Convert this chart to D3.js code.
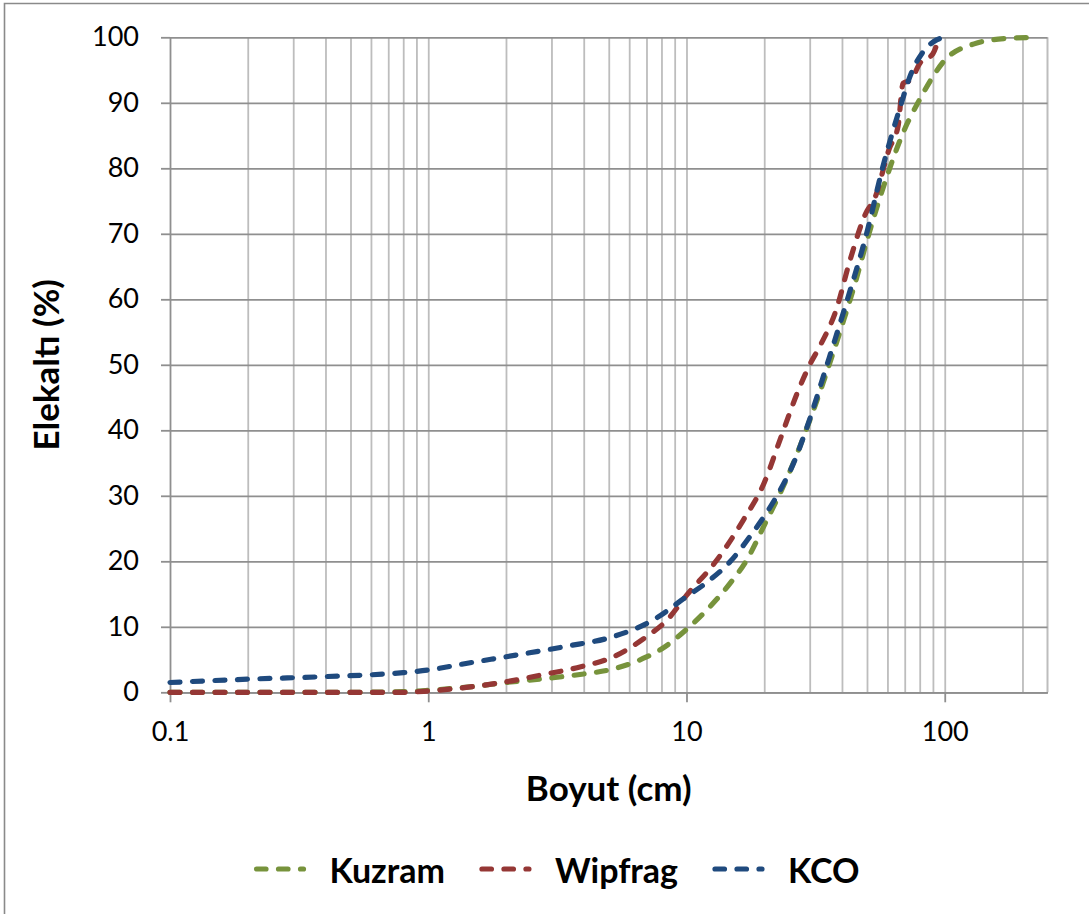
<!DOCTYPE html>
<html>
<head>
<meta charset="utf-8">
<script src="https://cdn.jsdelivr.net/npm/d3@7/dist/d3.min.js"></script>
<style>
  html, body { margin: 0; padding: 0; background: #ffffff; }
  svg { display: block; }
  text { font-family: Lato, "Open Sans", "Liberation Sans", sans-serif; fill: #000; }
</style>
</head>
<body>
<svg id="chart" width="1089" height="914"></svg>
<script>
// Particle size distribution curves (size in cm, cumulative passing in %)
const kuzramSize    = [0.1, 0.2, 0.5, 0.8, 1, 1.5, 2, 3, 4, 5, 6, 7, 8, 10, 12, 15, 17, 20, 25, 30, 35, 40, 45, 50, 60, 70, 80, 90, 100, 130, 170, 230];
const kuzramPassing = [0, 0, 0, 0.1, 0.3, 0.9, 1.5, 2.2, 2.8, 3.4, 4.3, 5.4, 6.6, 9.6, 12.6, 17, 20, 25.5, 33.5, 41.5, 49, 56, 62.5, 69, 79, 86, 90.5, 94, 96.5, 99, 99.8, 100];

const wipfragSize    = [0.1, 0.2, 0.5, 0.8, 1, 1.3, 2, 2.7, 3.9, 5.2, 7, 8.4, 10, 13, 16.6, 20, 23, 27.5, 30, 33, 38, 43, 50, 53, 61, 66, 69, 74, 80, 90, 95];
const wipfragPassing = [0, 0, 0, 0, 0.2, 0.6, 1.6, 2.6, 3.9, 5.4, 8.5, 11, 14.8, 20, 26.3, 32, 38.5, 46.7, 50, 53, 58.4, 66, 73.5, 75, 83, 86.5, 93, 93.5, 96, 97.5, 100];

const kcoSize    = [0.1, 0.2, 0.4, 0.8, 1, 1.4, 2.2, 3.4, 5.2, 7.4, 10, 12, 14.8, 18, 20.5, 23, 26, 29, 35, 42, 49.8, 57.4, 68, 73.3, 82.5, 93, 100];
const kcoPassing = [1.5, 2.0, 2.4, 3.0, 3.4, 4.4, 5.7, 7.0, 8.5, 11, 14.6, 16.8, 20, 24.3, 27.5, 30.8, 35, 40, 50, 60, 70, 80, 90, 94, 97.8, 99.6, 100];

const seriesNames  = ["Kuzram", "Wipfrag", "KCO"];
const seriesColors = ["#77933C", "#953735", "#1F4A7E"];

const yTickValues = [0, 10, 20, 30, 40, 50, 60, 70, 80, 90, 100];
const xTickValues = [0.1, 1, 10, 100];
const xTickLabels = ["0.1", "1", "10", "100"];
const xDomain = [0.1, 250];
const yDomain = [0, 100];

const xTitle = "Boyut (cm)";
const yTitle = "Elekaltı (%)";

const series = [
  { name: seriesNames[0], color: seriesColors[0], pts: kuzramSize.map((s, i) => [s, kuzramPassing[i]]) },
  { name: seriesNames[1], color: seriesColors[1], pts: wipfragSize.map((s, i) => [s, wipfragPassing[i]]) },
  { name: seriesNames[2], color: seriesColors[2], pts: kcoSize.map((s, i) => [s, kcoPassing[i]]) }
];

const svg = d3.select("#chart");
const plot = { left: 170, right: 1047.5, top: 37.3, bottom: 692.3 };

const x = d3.scaleLog().domain(xDomain).range([plot.left, plot.right]);
const y = d3.scaleLinear().domain(yDomain).range([plot.bottom, plot.top]);

const dash = { width: 5.2, array: "10 12.5" };

// outer chart frame
svg.append("path")
  .attr("d", "M4.5,914 V3.5 H1089")
  .attr("fill", "none").attr("stroke", "#8a8a8a").attr("stroke-width", 1.6);

// vertical (minor) gridlines on the log axis
const minorX = [];
for (let dec = 0.1; dec < 1000; dec *= 10) {
  for (let k = 1; k <= 9; k++) {
    const v = +(dec * k).toPrecision(3);
    if (v > xDomain[0] && v < xDomain[1]) minorX.push(v);
  }
}
svg.append("g")
  .attr("transform", `translate(0,${plot.bottom})`)
  .call(d3.axisBottom(x).tickValues(minorX).tickSize(-(plot.bottom - plot.top)).tickSizeOuter(0).tickFormat(""))
  .call(g => g.select(".domain").remove())
  .call(g => g.selectAll("line").attr("stroke", "#bdbdbd").attr("stroke-width", 1.8));

// right edge of plot area
svg.append("line")
  .attr("x1", x(xDomain[1])).attr("x2", x(xDomain[1]))
  .attr("y1", plot.top).attr("y2", plot.bottom)
  .attr("stroke", "#bdbdbd").attr("stroke-width", 2);

// horizontal gridlines
svg.append("g")
  .attr("transform", `translate(${plot.left},0)`)
  .call(d3.axisLeft(y).tickValues(yTickValues).tickSize(-(plot.right - plot.left)).tickSizeOuter(0).tickFormat(""))
  .call(g => g.select(".domain").remove())
  .call(g => g.selectAll("line").attr("stroke", "#8f8f8f").attr("stroke-width", 1.8));

// y axis with outward ticks
svg.append("g")
  .attr("transform", `translate(${plot.left},0)`)
  .call(d3.axisLeft(y).tickValues(yTickValues).tickSize(9).tickSizeOuter(0).tickPadding(22).tickFormat(d3.format("d")))
  .call(g => g.select(".domain").attr("stroke", "#8f8f8f").attr("stroke-width", 1.8))
  .call(g => g.selectAll(".tick line").attr("stroke", "#8f8f8f").attr("stroke-width", 1.8))
  .call(g => g.selectAll(".tick text").attr("font-size", 27).attr("font-family", "Lato").attr("fill", "#000"));

// x axis with outward ticks at decades
svg.append("g")
  .attr("transform", `translate(0,${plot.bottom})`)
  .call(d3.axisBottom(x).tickValues(xTickValues).tickSize(10).tickSizeOuter(0).tickPadding(20)
    .tickFormat((d, i) => xTickLabels[i]))
  .call(g => g.select(".domain").attr("stroke", "#8f8f8f").attr("stroke-width", 1.8))
  .call(g => g.selectAll(".tick line").attr("stroke", "#8f8f8f").attr("stroke-width", 1.8))
  .call(g => g.selectAll(".tick text").attr("font-size", 27).attr("font-family", "Lato").attr("fill", "#000"));

// curves
const line = d3.line()
  .x(d => x(d[0]))
  .y(d => y(d[1]))
  .curve(d3.curveMonotoneX);

svg.append("g").selectAll("path")
  .data(series)
  .join("path")
  .attr("d", d => line(d.pts))
  .attr("fill", "none")
  .attr("stroke", d => d.color)
  .attr("stroke-width", dash.width)
  .attr("stroke-linecap", "round")
  .attr("stroke-dasharray", dash.array);

// axis titles
svg.append("text")
  .attr("x", (plot.left + plot.right) / 2).attr("y", 787)
  .attr("text-anchor", "middle").attr("dominant-baseline", "central")
  .attr("font-size", 35).attr("font-weight", "bold")
  .text(xTitle);

svg.append("text")
  .attr("transform", `translate(45,${(plot.top + plot.bottom) / 2}) rotate(-90)`)
  .attr("text-anchor", "middle").attr("dominant-baseline", "central")
  .attr("font-size", 35).attr("font-weight", "bold")
  .text(yTitle);

// legend
const legend = svg.append("g");
const legendY = 869;
const symW = 50, symGap = 26, itemGap = 34;
let cursor = 0;
series.forEach(s => {
  const g = legend.append("g");
  g.append("line")
    .attr("x1", 3).attr("x2", symW).attr("y1", 0).attr("y2", 0)
    .attr("stroke", s.color).attr("stroke-width", dash.width)
    .attr("stroke-linecap", "round").attr("stroke-dasharray", "9.5 12.5");
  const t = g.append("text")
    .attr("x", symW + symGap).attr("y", 0)
    .attr("dominant-baseline", "central")
    .attr("font-size", 34).attr("font-weight", "bold")
    .text(s.name);
  const w = symW + symGap + t.node().getComputedTextLength();
  g.attr("transform", `translate(${cursor},${legendY})`);
  cursor += w + itemGap;
});
const totalW = cursor - itemGap;
legend.attr("transform", `translate(${556.5 - totalW / 2},0)`);
</script>
</body>
</html>
